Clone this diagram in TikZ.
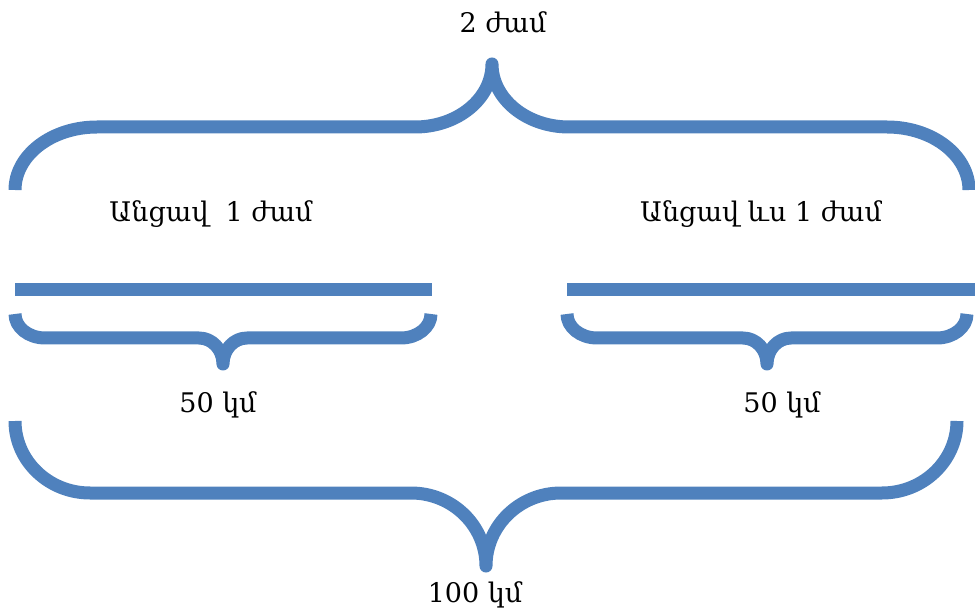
\documentclass[tikz,border=0pt]{standalone}
\usepackage{fontspec}
\setmainfont{DejaVu Serif}
\definecolor{braceblue}{HTML}{4F81BD}
\begin{document}
\begin{tikzpicture}[x=1pt,y=-1pt,
  bracestroke/.style={draw=braceblue,line width=13pt,line cap=butt,line join=round},
  barstroke/.style={draw=braceblue,line width=13pt,line cap=butt},
  lbl/.style={anchor=base,inner sep=0pt,font=\fontsize{27}{32}\selectfont}]
\useasboundingbox (0,0) rectangle (975,612);

% top brace, tip pointing up (angle 90 points down the page here)
\draw[bracestroke] (15,190)
  arc[start angle=180,end angle=270,x radius=82,y radius=63] -- (415,127)
  arc[start angle=90,end angle=0,x radius=77,y radius=63]
  arc[start angle=180,end angle=90,x radius=77,y radius=63] -- (887,127)
  arc[start angle=270,end angle=360,x radius=82,y radius=63];

% two bars
\draw[barstroke] (15,290) -- (432,290);
\draw[barstroke] (567,290) -- (975,290);

% small left brace, tip pointing down
\draw[bracestroke] (15,314)
  arc[start angle=180,end angle=90,x radius=30,y radius=24] -- (199,338)
  arc[start angle=270,end angle=360,x radius=24,y radius=26]
  arc[start angle=180,end angle=270,x radius=24,y radius=26] -- (401,338)
  arc[start angle=90,end angle=0,x radius=30,y radius=24];

% small right brace, tip pointing down
\draw[bracestroke] (567,314)
  arc[start angle=180,end angle=90,x radius=30,y radius=24] -- (743,338)
  arc[start angle=270,end angle=360,x radius=24,y radius=26]
  arc[start angle=180,end angle=270,x radius=24,y radius=26] -- (937,338)
  arc[start angle=90,end angle=0,x radius=30,y radius=24];

% bottom brace, tip pointing down
\draw[bracestroke] (15,421)
  arc[start angle=180,end angle=90,x radius=75,y radius=72] -- (411,493)
  arc[start angle=270,end angle=360,x radius=75,y radius=73]
  arc[start angle=180,end angle=270,x radius=75,y radius=73] -- (882,493)
  arc[start angle=90,end angle=0,x radius=75,y radius=72];

% labels
\node[lbl] (total time) at (503,33) {2 ժամ};
\node[lbl] (first hour) at (211,222) {Անցավ\ \ 1 ժամ};
\node[lbl] (second hour) at (761,222) {Անցավ ևս 1 ժամ};
\node[lbl] (first dist) at (218,412) {50 կմ};
\node[lbl] (second dist) at (782,412) {50 կմ};
\node[lbl] (total dist) at (475,602) {100 կմ};
\end{tikzpicture}
\end{document}
